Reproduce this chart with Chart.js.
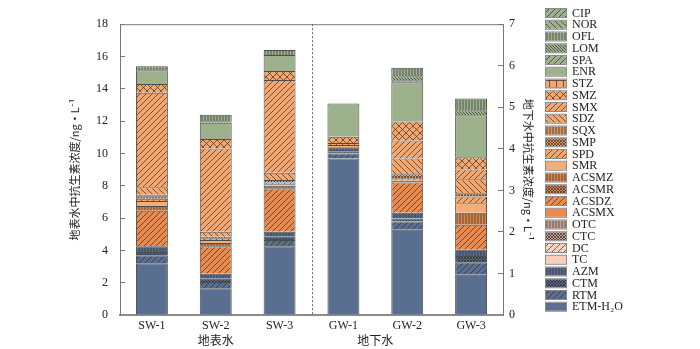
<!DOCTYPE html>
<html>
<head>
<meta charset="utf-8">
<script src="https://cdn.jsdelivr.net/npm/chart.js@4.4.0/dist/chart.umd.min.js"></script>
<style>
    html, body { margin: 0; padding: 0; background: #fff; }
    #wrap { width: 700px; height: 349px; }
</style>
</head>
<body>
<div id="wrap"><canvas id="chart" width="700" height="349"></canvas></div>
<script>
const sites = ['SW-1', 'SW-2', 'SW-3', 'GW-1', 'GW-2', 'GW-3'];
const groupLabels = ['地表水', '地下水'];

// concentrations, ng/L (SW on left axis, GW on right axis), bottom of stack first
const ETM_H2O = [3.2, 1.65, 4.25, 3.77, 2.05, 0.97];
const RTM = [0.5, 0.4, 0.4, 0.12, 0.2, 0.3];
const CTM = [0.2, 0.2, 0.2, 0.05, 0.07, 0.15];
const AZM = [0.35, 0.3, 0.3, 0.1, 0.14, 0.15];
const TC = [0, 0, 0, 0, 0, 0];
const DC = [0, 0, 0, 0, 0, 0];
const CTC = [0, 0, 0, 0, 0, 0];
const OTC = [0, 0, 0, 0, 0, 0];
const ACSMX = [0, 0, 0, 0, 0, 0];
const ACSDZ = [2.2, 1.7, 2.7, 0, 0.73, 0.6];
const ACSMR = [0, 0, 0, 0, 0, 0];
const ACSMZ = [0.3, 0.2, 0.15, 0, 0.04, 0.29];
const SMR = [0.3, 0.2, 0.1, 0.05, 0, 0.23];
const SPD = [0.15, 0.1, 0.1, 0, 0.06, 0.16];
const SMP = [0.15, 0.1, 0.15, 0, 0.1, 0.08];
const SQX = [0.1, 0, 0, 0, 0, 0];
const SDZ = [0.45, 0.3, 0.45, 0.05, 0.38, 0.34];
const SMX = [5.85, 5.15, 5.75, 0, 0.43, 0.23];
const SMZ = [0.55, 0.6, 0.55, 0.15, 0.46, 0.3];
const STZ = [0, 0, 0, 0, 0, 0];
const ENR = [0.85, 1.0, 1.0, 0.8, 0.94, 1.01];
const SPA = [0, 0, 0, 0, 0.05, 0];
const LOM = [0, 0.1, 0, 0, 0.1, 0.12];
const OFL = [0.25, 0.4, 0.3, 0, 0.2, 0.28];
const NOR = [0, 0, 0, 0, 0, 0];
const CIP = [0, 0, 0, 0, 0, 0];

const GREEN = '#9cb18c', ORANGE = '#f5a66c', DARK = '#ec8a4d', BLUE = '#5a6f8f';

const series = [
    {name: 'ETM-H₂O', values: ETM_H2O, color: BLUE, pat: 'solid'},
    {name: 'RTM', values: RTM, color: BLUE, pat: 'fwd'},
    {name: 'CTM', values: CTM, color: BLUE, pat: 'dense'},
    {name: 'AZM', values: AZM, color: BLUE, pat: 'vert'},
    {name: 'TC', values: TC, color: '#fbd0bb', pat: 'solid'},
    {name: 'DC', values: DC, color: '#fad3bf', pat: 'fwd'},
    {name: 'CTC', values: CTC, color: '#c9a292', pat: 'dense'},
    {name: 'OTC', values: OTC, color: '#c7a396', pat: 'vert'},
    {name: 'ACSMX', values: ACSMX, color: DARK, pat: 'solid'},
    {name: 'ACSDZ', values: ACSDZ, color: DARK, pat: 'fwd'},
    {name: 'ACSMR', values: ACSMR, color: '#dc8a55', pat: 'dense'},
    {name: 'ACSMZ', values: ACSMZ, color: '#d7864d', pat: 'vert'},
    {name: 'SMR', values: SMR, color: '#f5ad76', pat: 'solid'},
    {name: 'SPD', values: SPD, color: ORANGE, pat: 'fwd'},
    {name: 'SMP', values: SMP, color: '#e69a62', pat: 'dense'},
    {name: 'SQX', values: SQX, color: '#d99560', pat: 'vert'},
    {name: 'SDZ', values: SDZ, color: ORANGE, pat: 'back'},
    {name: 'SMX', values: SMX, color: ORANGE, pat: 'fwd'},
    {name: 'SMZ', values: SMZ, color: ORANGE, pat: 'cross'},
    {name: 'STZ', values: STZ, color: ORANGE, pat: 'grid'},
    {name: 'ENR', values: ENR, color: GREEN, pat: 'solid'},
    {name: 'SPA', values: SPA, color: GREEN, pat: 'fwd'},
    {name: 'LOM', values: LOM, color: GREEN, pat: 'denseBack'},
    {name: 'OFL', values: OFL, color: GREEN, pat: 'vert'},
    {name: 'NOR', values: NOR, color: GREEN, pat: 'back'},
    {name: 'CIP', values: CIP, color: GREEN, pat: 'fwd'}
];

function makeFill(color, kind) {
    if (kind === 'solid') return color;
    let s = 6;
    if (kind === 'vert') s = 3;
    if (kind === 'dense' || kind === 'denseBack') s = 3;
    if (kind === 'cross' || kind === 'grid') s = 7;
    const c = document.createElement('canvas');
    c.width = s;
    c.height = s;
    const g = c.getContext('2d');
    g.fillStyle = color;
    g.fillRect(0, 0, s, s);
    g.strokeStyle = 'rgba(45,40,40,0.85)';
    g.lineWidth = 0.8;
    g.beginPath();
    if (kind === 'vert') {
        g.moveTo(1, 0);
        g.lineTo(1, s);
    }
    if (kind === 'grid') {
        g.moveTo(s / 2, 0); g.lineTo(s / 2, s);
        g.moveTo(0, s / 2); g.lineTo(s, s / 2);
    }
    if (kind === 'fwd' || kind === 'cross' || kind === 'dense') {
        for (const k of [0, s, 2 * s]) {
            g.moveTo(k, 0);
            g.lineTo(k - s, s);
        }
    }
    if (kind === 'back' || kind === 'cross' || kind === 'dense' || kind === 'denseBack') {
        for (const k of [-s, 0, s]) {
            g.moveTo(k, 0);
            g.lineTo(k + s, s);
        }
    }
    g.stroke();
    return g.createPattern(c, 'repeat');
}

const fills = {};
const datasets = [];
series.forEach(s => {
    fills[s.name] = makeFill(s.color, s.pat);
    ['y', 'y2'].forEach((axis, k) => {
        datasets.push({
            label: s.name,
            data: s.values.map((v, i) => ((i < 3) === (k === 0) && v > 0) ? v : null),
            yAxisID: axis,
            stack: 'all',
            backgroundColor: fills[s.name],
            borderColor: '#4d4d4d',
            borderWidth: 1,
            barPercentage: 0.5,
            categoryPercentage: 1
        });
    });
});

const serif = 'Liberation Serif';
const cjk = "'Noto Sans CJK SC'";

const extras = {
    id: 'extras',
    afterDraw(chart) {
        const ctx = chart.ctx;
        const area = chart.chartArea;
        const x = chart.scales.x;
        ctx.save();

        // frame top
        ctx.strokeStyle = '#7a7a7a';
        ctx.lineWidth = 1;
        ctx.beginPath();
        ctx.moveTo(area.left, area.top + 0.5);
        ctx.lineTo(area.right, area.top + 0.5);
        ctx.stroke();

        // divider between surface and ground water
        const mid = Math.round((x.getPixelForValue(2) + x.getPixelForValue(3)) / 2) + 0.5;
        ctx.setLineDash([2, 2]);
        ctx.strokeStyle = '#666';
        ctx.beginPath();
        ctx.moveTo(mid, area.top);
        ctx.lineTo(mid, area.bottom);
        ctx.stroke();
        ctx.setLineDash([]);

        // group labels
        ctx.fillStyle = '#222';
        ctx.font = '12px ' + cjk;
        ctx.textAlign = 'center';
        ctx.textBaseline = 'middle';
        ctx.fillText(groupLabels[0], x.getPixelForValue(1), 340);
        ctx.fillText(groupLabels[1], (x.getPixelForValue(3) + x.getPixelForValue(4)) / 2, 340);

        // legend
        ctx.textAlign = 'left';
        ctx.font = '12px "' + serif + '"';
        series.slice().reverse().forEach((s, i) => {
            const cy = 13 + i * 11.75;
            ctx.fillStyle = fills[s.name];
            ctx.fillRect(545, cy - 4, 22, 8);
            ctx.strokeStyle = '#8a8a8a';
            ctx.strokeRect(545.5, cy - 4.5, 21, 9);
            ctx.fillStyle = '#222';
            ctx.fillText(s.name, 572, cy + 0.5);
        });
        ctx.restore();
    }
};

new Chart(document.getElementById('chart').getContext('2d'), {
    type: 'bar',
    data: {labels: sites, datasets: datasets},
    options: {
        responsive: false,
        animation: false,
        devicePixelRatio: 1,
        layout: {padding: {left: 64, right: 165, top: 12, bottom: 0}},
        plugins: {legend: {display: false}, tooltip: {enabled: false}},
        scales: {
            x: {
                stacked: true,
                grid: {display: false, drawTicks: false},
                border: {color: '#8a8a8a', width: 2},
                ticks: {color: '#222', font: {family: serif, size: 12}, padding: 4},
                afterFit: s => { s.height = 34; }
            },
            y: {
                stacked: true,
                position: 'left',
                min: 0,
                max: 18,
                ticks: {stepSize: 2, color: '#222', font: {family: serif, size: 12}, padding: 17},
                grid: {drawOnChartArea: false, tickLength: -5, color: '#777'},
                border: {color: '#777', width: 1},
                title: {
                    display: true,
                    text: '地表水中抗生素浓度/ng·L⁻¹',
                    color: '#222',
                    font: {family: cjk, size: 11},
                    padding: {top: 4, bottom: 0}
                },
                afterFit: s => { s.width = 56; }
            },
            y2: {
                stacked: true,
                position: 'right',
                min: 0,
                max: 7,
                ticks: {stepSize: 1, color: '#222', font: {family: serif, size: 12}, padding: 11},
                grid: {drawOnChartArea: false, tickLength: -5, color: '#777'},
                border: {color: '#777', width: 1},
                title: {
                    display: true,
                    text: '地下水中抗生素浓度/ng·L⁻¹',
                    color: '#222',
                    font: {family: cjk, size: 11},
                    padding: {top: 0, bottom: 0}
                },
                afterFit: s => { s.width = 32; }
            }
        }
    },
    plugins: [extras]
});
</script>
</body>
</html>
